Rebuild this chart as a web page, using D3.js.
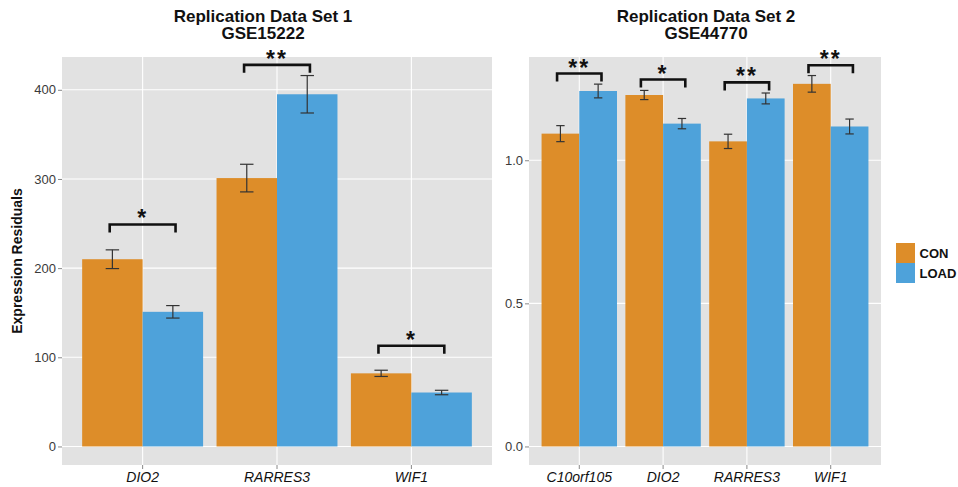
<!DOCTYPE html>
<html>
<head>
<meta charset="utf-8">
<script src="https://cdn.jsdelivr.net/npm/d3@7"></script>
<style>
  body { margin: 0; background: #fff; }
  text { font-family: "Liberation Sans", Arial, sans-serif; }
</style>
</head>
<body>
<svg id="viz" width="958" height="487"></svg>
<script>
// data
const groups = ["CON", "LOAD"]
const colors = ["#DD8D29", "#4EA2DA"]

// Replication Data Set 1 - GSE15222
const genes1 = ["DIO2", "RARRES3", "WIF1"]
const con1 = [210, 301, 82]
const conErr1 = [10.5, 15.5, 3.5]
const load1 = [151, 395, 60.5]
const loadErr1 = [7, 21, 2.5]
const sig1 = ["*", "**", "*"]
const bracket1 = [249, 428, 113]
const ticks1 = [0, 100, 200, 300, 400]

// Replication Data Set 2 - GSE44770
const genes2 = ["C10orf105", "DIO2", "RARRES3", "WIF1"]
const con2 = [1.093, 1.228, 1.066, 1.267]
const conErr2 = [0.028, 0.016, 0.025, 0.029]
const load2 = [1.242, 1.128, 1.216, 1.118]
const loadErr2 = [0.024, 0.018, 0.019, 0.026]
const sig2 = ["**", "*", "**", "**"]
const bracket2 = [1.303, 1.282, 1.272, 1.332]
const ticks2 = [0, 0.5, 1.0]

const svg = d3.select("svg#viz")
const PANEL_TOP = 57, PANEL_BOTTOM = 465

function drawPanel(p) {
    const g = svg.append("g")

    const rows = p.genes.map((gene, i) => ({
        gene: gene,
        bars: [
            {grp: "CON", v: p.con[i], e: p.conErr[i]},
            {grp: "LOAD", v: p.load[i], e: p.loadErr[i]}
        ],
        sig: p.sig[i],
        br: p.bracket[i]
    }))

    const M = d3.max(rows, r => d3.max(r.bars, b => b.v + b.e))
    const y = d3.scaleLinear()
        .domain([-0.05 * M, 1.05 * M])
        .range([PANEL_BOTTOM, PANEL_TOP])
    const x = d3.scaleBand().domain(p.genes)
        .range([p.left, p.right])
        .paddingInner(0.1).paddingOuter(0.15)
    const xs = d3.scaleBand().domain(groups).range([0, x.bandwidth()])
    const color = d3.scaleOrdinal().domain(groups).range(colors)
    const step = x.step()

    // panel background + grid
    g.append("rect")
        .attr("x", p.left).attr("y", PANEL_TOP)
        .attr("width", p.right - p.left).attr("height", PANEL_BOTTOM - PANEL_TOP)
        .attr("fill", "#E2E2E2")
    g.selectAll("line.hgrid").data(p.ticks).join("line")
        .attr("class", "hgrid")
        .attr("x1", p.left).attr("x2", p.right)
        .attr("y1", d => y(d)).attr("y2", d => y(d))
        .attr("stroke", "#fff").attr("stroke-width", 1.1)
    g.selectAll("line.vgrid").data(p.genes).join("line")
        .attr("class", "vgrid")
        .attr("x1", d => x(d) + x.bandwidth() / 2).attr("x2", d => x(d) + x.bandwidth() / 2)
        .attr("y1", PANEL_TOP).attr("y2", PANEL_BOTTOM)
        .attr("stroke", "#fff").attr("stroke-width", 1.1)

    // bars
    const cat = g.selectAll("g.cat").data(rows).join("g")
        .attr("class", "cat")
        .attr("transform", d => `translate(${x(d.gene)},0)`)
    cat.selectAll("rect.bar").data(d => d.bars).join("rect")
        .attr("class", "bar")
        .attr("x", d => xs(d.grp))
        .attr("width", xs.bandwidth())
        .attr("y", d => y(d.v))
        .attr("height", d => y(0) - y(d.v))
        .attr("fill", d => color(d.grp))

    // error bars
    const cap = step * 0.05
    const eb = cat.selectAll("g.err").data(d => d.bars).join("g")
        .attr("class", "err")
        .attr("transform", d => `translate(${xs(d.grp) + xs.bandwidth() / 2},0)`)
        .attr("stroke", "#333").attr("stroke-width", 1.2)
    eb.append("line").attr("x1", 0).attr("x2", 0)
        .attr("y1", d => y(d.v - d.e)).attr("y2", d => y(d.v + d.e))
    eb.append("line").attr("x1", -cap).attr("x2", cap)
        .attr("y1", d => y(d.v + d.e)).attr("y2", d => y(d.v + d.e))
    eb.append("line").attr("x1", -cap).attr("x2", cap)
        .attr("y1", d => y(d.v - d.e)).attr("y2", d => y(d.v - d.e))

    // significance brackets
    const half = step * p.brHalf
    cat.append("path")
        .attr("d", d => {
            const c = x.bandwidth() / 2, yy = y(d.br)
            return `M${c - half},${yy + 8}V${yy}H${c + half}V${yy + 8}`
        })
        .attr("fill", "none").attr("stroke", "#111").attr("stroke-width", 2.6)
    cat.append("text")
        .attr("x", x.bandwidth() / 2)
        .attr("y", d => y(d.br) + 2)
        .attr("text-anchor", "middle")
        .attr("font-size", 23)
        .attr("font-weight", "bold")
        .attr("letter-spacing", 2)
        .attr("fill", "#111")
        .text(d => d.sig)

    // axes
    const yAxis = d3.axisLeft(y).tickValues(p.ticks).tickFormat(p.fmt).tickSize(4).tickPadding(2)
    const ya = g.append("g").attr("transform", `translate(${p.left},0)`).call(yAxis)
    ya.select(".domain").remove()
    ya.selectAll(".tick line").attr("stroke", "#888")
    ya.selectAll(".tick text").attr("font-size", 13).attr("fill", "#3a3a3a")
        .attr("font-family", "Liberation Sans, Arial, sans-serif")

    const xAxis = d3.axisBottom(x).tickSize(4).tickPadding(3)
    const xa = g.append("g").attr("transform", `translate(0,${PANEL_BOTTOM})`).call(xAxis)
    xa.select(".domain").remove()
    xa.selectAll(".tick line").attr("stroke", "#888")
    xa.selectAll(".tick text").attr("font-size", 14).attr("font-style", "italic")
        .attr("fill", "#111").attr("font-family", "Liberation Sans, Arial, sans-serif")

    // title
    const t = g.append("text")
        .attr("text-anchor", "middle")
        .attr("font-weight", "bold").attr("font-size", 17).attr("fill", "#111")
    t.append("tspan").attr("x", p.titleX).attr("y", 21.5).text(p.title[0])
    t.append("tspan").attr("x", p.titleX).attr("y", 39).text(p.title[1])
}

drawPanel({
    genes: genes1, con: con1, conErr: conErr1, load: load1, loadErr: loadErr1,
    sig: sig1, bracket: bracket1, ticks: ticks1, fmt: d3.format("d"),
    left: 62, right: 492, brHalf: 0.245, titleX: 263,
    title: ["Replication Data Set 1", "GSE15222"]
})
drawPanel({
    genes: genes2, con: con2, conErr: conErr2, load: load2, loadErr: loadErr2,
    sig: sig2, bracket: bracket2, ticks: ticks2, fmt: d3.format(".1f"),
    left: 529, right: 881, brHalf: 0.265, titleX: 706,
    title: ["Replication Data Set 2", "GSE44770"]
})

// y axis title
svg.append("text")
    .attr("transform", "translate(22,261) rotate(-90)")
    .attr("text-anchor", "middle")
    .attr("font-weight", "bold").attr("font-size", 14).attr("fill", "#111")
    .text("Expression Residuals")

// legend
const legend = svg.append("g").attr("transform", "translate(896,243)")
legend.selectAll("rect").data(groups).join("rect")
    .attr("x", 0).attr("y", (d, i) => i * 20)
    .attr("width", 19).attr("height", 20)
    .attr("fill", (d, i) => colors[i])
legend.selectAll("text").data(groups).join("text")
    .attr("x", 23.5).attr("y", (d, i) => i * 20 + 14.5)
    .attr("font-weight", "bold").attr("font-size", 13).attr("fill", "#111")
    .text(d => d)
</script>
</body>
</html>
